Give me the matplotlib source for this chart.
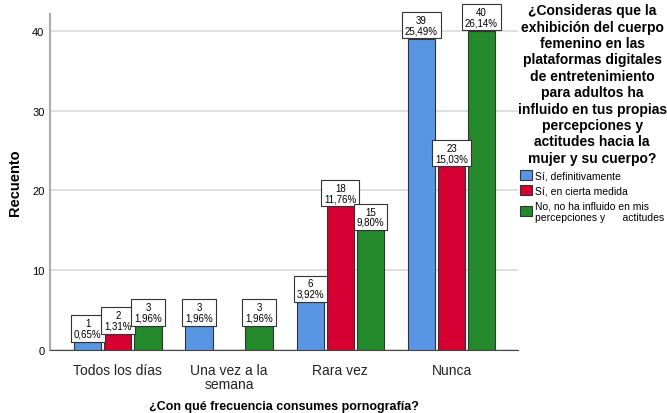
import matplotlib.pyplot as plt
import numpy as np
from matplotlib.patches import Patch

plt.rcParams['font.family'] = ['Liberation Sans', 'DejaVu Sans']

# data
categories = ['Todos los días', 'Una vez a la\nsemana', 'Rara vez', 'Nunca']
series_names = ['Sí, definitivamente', 'Sí, en cierta medida',
                'No, no ha influido en mis\npercepciones y      actitudes']
counts = [
    [1, 3, 6, 39],
    [2, 0, 18, 23],
    [3, 3, 15, 40],
]
percents = [
    ['0,65%', '1,96%', '3,92%', '25,49%'],
    ['1,31%', '', '11,76%', '15,03%'],
    ['1,96%', '1,96%', '9,80%', '26,14%'],
]
colors = ['#5896e3', '#d70032', '#24892a']

legend_title = ('¿Consideras que la\nexhibición del cuerpo\nfemenino en las\n'
                'plataformas digitales\nde entretenimiento\npara adultos ha\n'
                'influido en tus propias\npercepciones y\nactitudes hacia la\n'
                'mujer y su cuerpo?')

fig = plt.figure(figsize=(6.67, 4.14), dpi=100)
ax = fig.add_axes([0.075, 0.152, 0.702, 0.812])

x = np.arange(len(categories))
width = 0.245
offsets = [-0.27, 0, 0.27]

for i in range(3):
    bars = ax.bar(x + offsets[i], counts[i], width, color=colors[i],
                  edgecolor='#333333', linewidth=0.8, zorder=3)
    for j, b in enumerate(bars):
        if counts[i][j] == 0:
            continue
        ax.annotate(f'{counts[i][j]}\n{percents[i][j]}',
                    xy=(b.get_x() + b.get_width() / 2, b.get_height()),
                    xytext=(0, 2.4), textcoords='offset points',
                    ha='center', va='bottom', fontsize=7,
                    linespacing=1.05, zorder=4, annotation_clip=False,
                    bbox=dict(boxstyle='square,pad=0.3', fc='white',
                              ec='#333333', lw=0.8))

ax.set_xlim(-0.61, 3.6)
ax.set_ylim(0, 42.1)
ax.set_yticks([0, 10, 20, 30, 40])
ax.set_xticks(x)
ax.set_xticklabels(categories, fontsize=10, color='#222222', linespacing=1.0)
ax.tick_params(axis='y', labelsize=8, length=0, pad=4)
ax.tick_params(axis='x', length=0, pad=9)
ax.grid(axis='y', color='#d9d9d9', linewidth=1.2, zorder=0)
for s in ['top', 'right']:
    ax.spines[s].set_visible(False)
ax.spines['left'].set_color('#aaaaaa')
ax.spines['left'].set_linewidth(1.5)
ax.spines['bottom'].set_color('#444444')

ax.set_ylabel('Recuento', fontsize=10.5, fontweight='bold', labelpad=7)
ax.set_xlabel('¿Con qué frecuencia consumes pornografía?', fontsize=9,
              fontweight='bold', labelpad=7)

handles = [Patch(facecolor=c, edgecolor='#333333', linewidth=0.8) for c in colors]
leg = fig.legend(handles, series_names, loc='upper left',
                 bbox_to_anchor=(0.776, 0.99), frameon=False,
                 title=legend_title, fontsize=7.5, handlelength=1.1,
                 handleheight=1.1, handletextpad=0.3, labelspacing=0.45,
                 borderaxespad=0, borderpad=0, alignment='center')
leg.get_title().set_fontsize(10)
leg.get_title().set_fontweight('bold')
leg.get_title().set_multialignment('center')
leg.get_title().set_linespacing(1.22)

fig.savefig('out.png', dpi=100)
